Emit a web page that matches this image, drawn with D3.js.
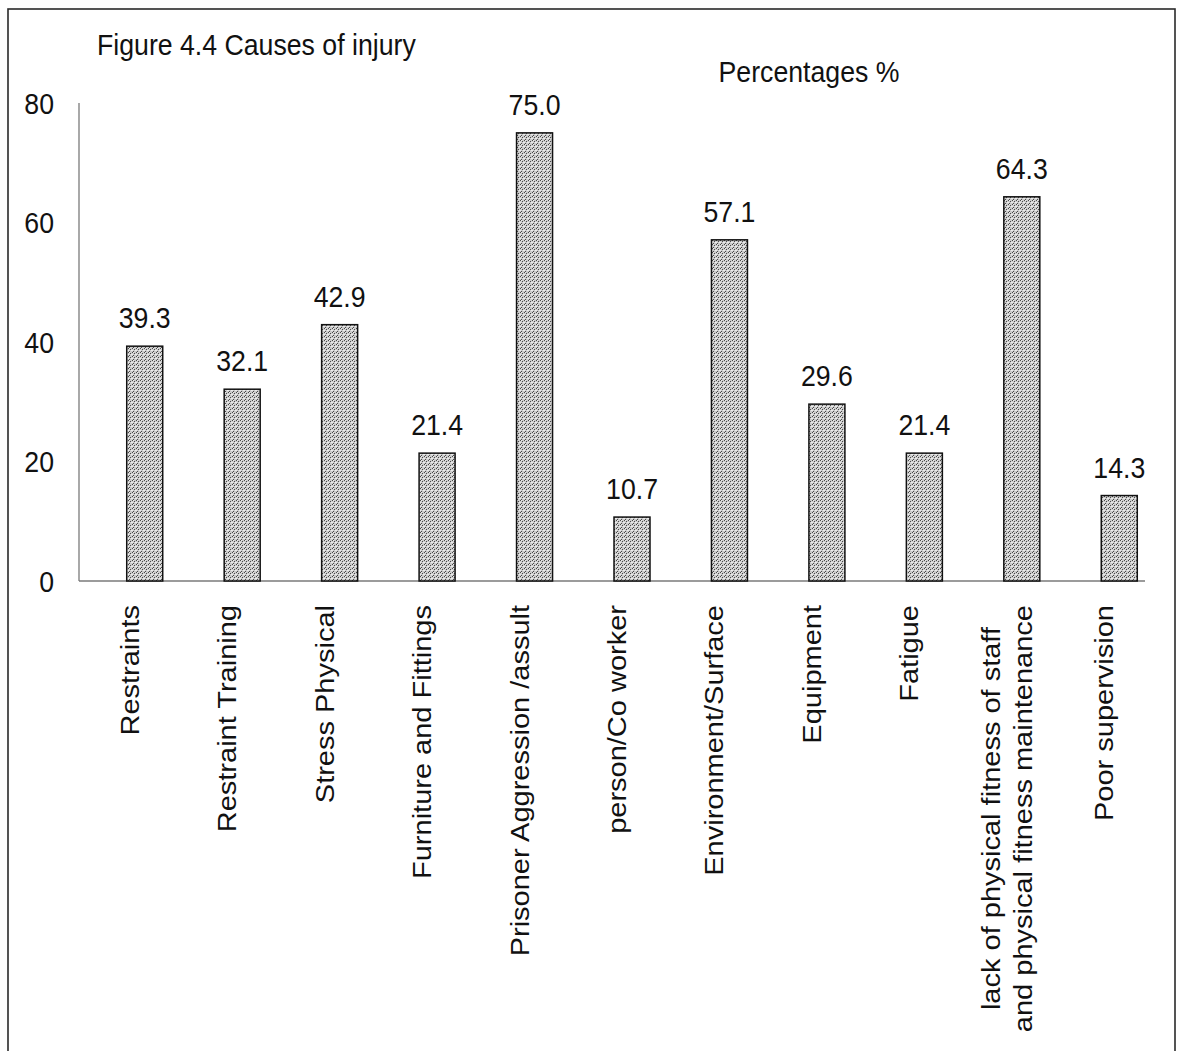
<!DOCTYPE html>
<html>
<head>
<meta charset="utf-8">
<script src="https://cdn.jsdelivr.net/npm/d3@7"></script>
<style>
  html, body { margin: 0; padding: 0; background: #fff; }
  svg { display: block; }
  text { font-family: "Liberation Sans", Arial, sans-serif; fill: #111; }
</style>
</head>
<body>
<svg id="chart" width="1182" height="1051"></svg>
<script>
// Causes of injury, percentage of respondents
const categories = [
  "Restraints",
  "Restraint Training",
  "Stress Physical",
  "Furniture and Fittings",
  "Prisoner Aggression /assult",
  "person/Co worker",
  "Environment/Surface",
  "Equipment",
  "Fatigue",
  "lack of physical fitness of staff\nand physical fitness maintenance",
  "Poor supervision"
];
const values = [39.3, 32.1, 42.9, 21.4, 75.0, 10.7, 57.1, 29.6, 21.4, 64.3, 14.3];
const yTicks = [0, 20, 40, 60, 80];
const chartTitle = "Figure 4.4 Causes of injury";
const seriesTitle = "Percentages %";

const svg = d3.select("#chart");
const FS = 29;          // font size
const SX = 0.92;        // horizontal squeeze of glyphs
const barW = 36;

// outer frame
svg.append("rect")
  .attr("x", 8).attr("y", 9)
  .attr("width", 1167).attr("height", 1080)
  .attr("fill", "none").attr("stroke", "#2a2a2a").attr("stroke-width", 1.6);

// grainy grey fill for the bars
const defs = svg.append("defs");
const pat = defs.append("pattern")
  .attr("id", "grain").attr("patternUnits", "userSpaceOnUse")
  .attr("width", 4).attr("height", 4);
pat.append("rect").attr("width", 4).attr("height", 4).attr("fill", "#cbcbcb");
[[0,0],[2,1],[1,3]].forEach(([px, py]) =>
  pat.append("rect").attr("x", px).attr("y", py).attr("width", 1).attr("height", 1).attr("fill", "#4a4a4a"));
[[1,0],[3,2],[0,2]].forEach(([px, py]) =>
  pat.append("rect").attr("x", px).attr("y", py).attr("width", 1).attr("height", 1).attr("fill", "#ebebeb"));

const y = d3.scaleLinear().domain([0, 80]).range([581, 103]);
const x = d3.scaleBand().domain(categories).range([96, 1168]).padding(0);

// axis lines
svg.append("line")
  .attr("x1", 79).attr("x2", 79).attr("y1", y(80)).attr("y2", y(0))
  .attr("stroke", "#7a7a7a").attr("stroke-width", 1.3);
svg.append("line")
  .attr("x1", 79).attr("x2", 1145).attr("y1", y(0)).attr("y2", y(0))
  .attr("stroke", "#7a7a7a").attr("stroke-width", 1.5);

// y tick labels
const yAxis = svg.append("g")
  .attr("transform", "translate(54,0)")
  .call(d3.axisLeft(y).tickValues(yTicks).tickSize(0).tickPadding(0));
yAxis.select(".domain").remove();
yAxis.selectAll("text")
  .attr("x", 0).attr("dy", "0.35em")
  .attr("font-size", FS)
  .attr("font-family", "Liberation Sans, Arial, sans-serif")
  .attr("fill", "#111")
  .attr("transform", `scale(${SX},1)`);

// bars
svg.append("g").selectAll("rect")
  .data(values)
  .join("rect")
  .attr("x", (d, i) => x(categories[i]) + (x.bandwidth() - barW) / 2)
  .attr("y", d => y(d))
  .attr("width", barW)
  .attr("height", d => y(0) - y(d))
  .attr("fill", "url(#grain)")
  .attr("stroke", "#111").attr("stroke-width", 1.5);

// value labels
svg.append("g").selectAll("text")
  .data(values)
  .join("text")
  .attr("transform", (d, i) =>
    `translate(${x(categories[i]) + x.bandwidth() / 2},${y(d) - 18}) scale(${SX},1)`)
  .attr("text-anchor", "middle")
  .attr("font-size", FS)
  .text(d => d3.format(".1f")(d));

// category labels, rotated, lines centred on each other
const labelTop = 605;
const lineGap = 32;
categories.forEach((c, i) => {
  const lines = c.split("\n");
  const cx = x(c) + x.bandwidth() / 2;
  const g = svg.append("g");
  const texts = lines.map(l => g.append("text")
    .attr("font-size", FS).attr("text-anchor", "end").text(l));
  const lens = texts.map(t => t.node().getComputedTextLength());
  const maxLen = d3.max(lens);
  texts.forEach((t, j) => {
    const bx = cx - 6 + (j - (lines.length - 1) / 2) * lineGap;
    const ty = labelTop + (maxLen - lens[j]) / 2;
    t.attr("transform", `translate(${bx},${ty}) scale(${SX},1) rotate(-90)`);
  });
});

// titles
svg.append("text")
  .attr("transform", `translate(97,55) scale(${SX},1)`)
  .attr("font-size", FS)
  .text(chartTitle);
svg.append("text")
  .attr("transform", `translate(809,82) scale(${SX},1)`)
  .attr("text-anchor", "middle")
  .attr("font-size", FS)
  .text(seriesTitle);
</script>
</body>
</html>
